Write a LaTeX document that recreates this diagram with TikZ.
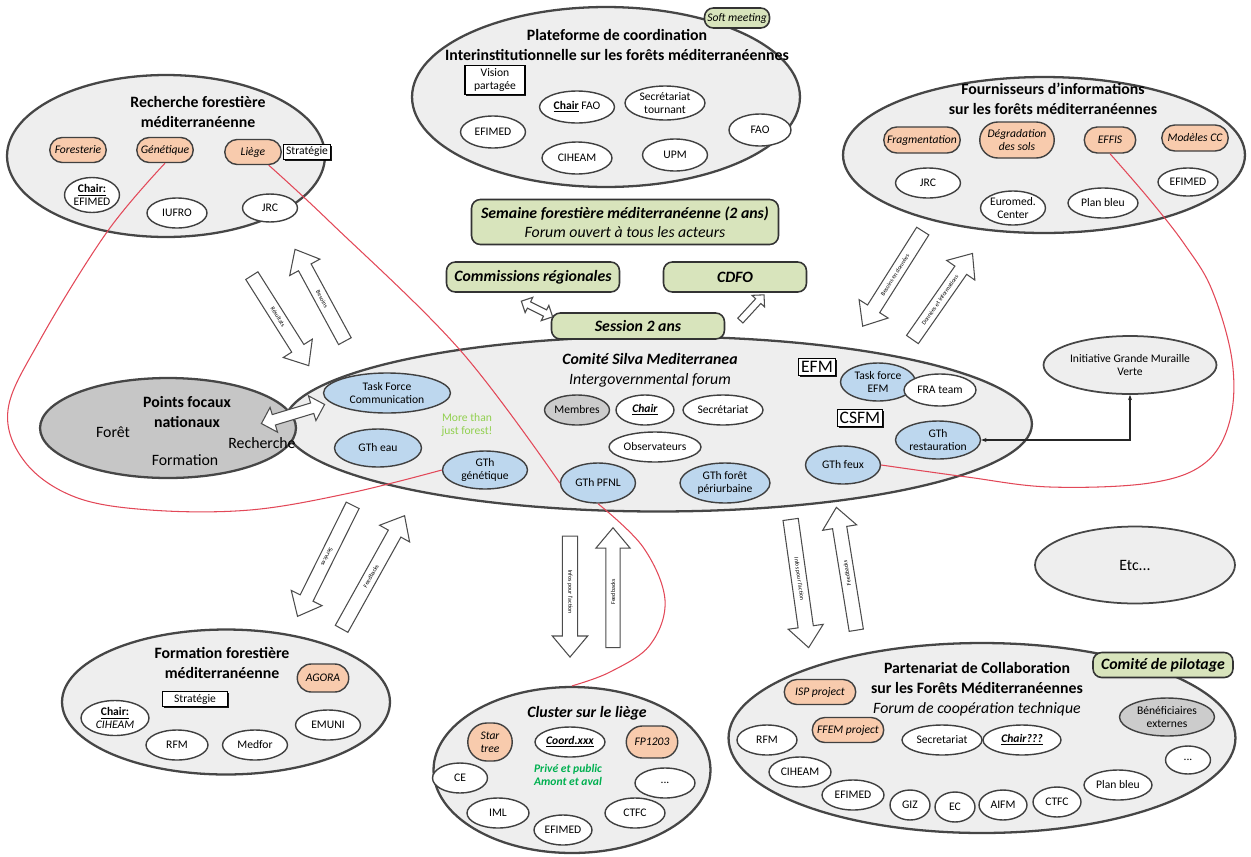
\documentclass[tikz,border=0pt]{standalone}
\usepackage{fontspec}
\setmainfont{Carlito}
\usepackage{tikz}
\usetikzlibrary{shapes, arrows, arrows.meta, positioning, shadows}

\definecolor{orfill}{RGB}{248,203,173}
\definecolor{blfill}{RGB}{189,215,238}
\definecolor{grfill}{RGB}{216,228,188}
\definecolor{redl}{RGB}{226,72,88}
\definecolor{ltgreen}{RGB}{146,208,80}
\definecolor{dkgreen}{RGB}{0,176,80}

\newcommand{\lblfont}{\fontsize{6.6}{7.4}\selectfont}
\newcommand{\ttlfont}{\fontsize{9}{11.4}\selectfont\bfseries}
\newcommand{\midfont}{\fontsize{9}{10.5}\selectfont}
\newcommand{\bigfont}{\fontsize{10}{11}\selectfont}
\newcommand{\arrfont}{\fontsize{3.4}{4}\selectfont}

\tikzstyle{bigell} = [ellipse, draw=gray!55!black, line width=1.3pt, fill=gray!13, inner sep=0pt]
\tikzstyle{pfnode} = [ellipse, draw=gray!55!black, line width=1.3pt, fill=gray!45, inner sep=0pt]
\tikzstyle{wnode} = [ellipse, draw=gray!50!black, line width=0.8pt, fill=white, inner sep=0pt, font=\lblfont, align=center]
\tikzstyle{gnode} = [wnode, fill=gray!40]
\tikzstyle{bnode} = [wnode, fill=blfill]
\tikzstyle{onode} = [rounded rectangle, draw=gray!50!black, line width=0.8pt, fill=orfill, inner sep=1pt, font=\lblfont\itshape, align=center]
\tikzstyle{gbox} = [rectangle, rounded corners=5pt, draw=gray!40!black, line width=0.9pt, fill=grfill, inner sep=1pt, font=\midfont\itshape, align=center]
\tikzstyle{rbox} = [rectangle, draw=black, line width=0.6pt, fill=white, inner sep=1.5pt, font=\lblfont, align=center, drop shadow={shadow xshift=0.8pt, shadow yshift=-0.8pt, fill=black, opacity=0.9}]
\tikzstyle{barrow} = [single arrow, draw=gray!60!black, line width=0.6pt, fill=white, inner xsep=1pt, inner ysep=2.6pt, font=\arrfont, single arrow head extend=0.2cm, single arrow tip angle=80]
\tikzstyle{sarrow} = [single arrow, draw=gray!60!black, line width=0.6pt, fill=white, inner sep=1.7pt, single arrow head extend=0.1cm]
\tikzstyle{darrow} = [double arrow, draw=gray!60!black, line width=0.6pt, fill=white, inner ysep=2.8pt, double arrow head extend=0.15cm]
\tikzstyle{redline} = [draw=redl, line width=0.6pt]
\tikzstyle{line} = [draw=gray!30!black, line width=0.6pt]

\begin{document}
\begin{tikzpicture}[x=0.02cm, y=-0.02cm]
	\useasboundingbox (0,0) rectangle (1251,856);

	% recherche
	\node [bigell, minimum width=6.36cm, minimum height=3.24cm] (rech) at (166,156) {};
	\node [font=\ttlfont, align=center] (rechT) at (198,112) {Recherche forestière\\méditerranéenne};
	\node [onode, minimum width=1.2cm, minimum height=0.5cm] (fores) at (78,150) {Foresterie};
	\node [onode, minimum width=1.2cm, minimum height=0.5cm] (genet) at (165,150) {Génétique};
	\node [onode, minimum width=1.2cm, minimum height=0.5cm] (liege) at (253,152) {Liège};
	\node [rbox, minimum width=0.9cm] (strat1) at (307,152) {Stratégie};
	\node [wnode, minimum width=1.1cm, minimum height=0.7cm] (chair1) at (92,195) {\underline{\textbf{Chair:}}\\EFIMED};
	\node [wnode, minimum width=1.2cm, minimum height=0.6cm] (iufro) at (177,213) {IUFRO};
	\node [wnode, minimum width=1.1cm, minimum height=0.56cm] (jrc1) at (270,208) {JRC};

	% plateforme
	\node [bigell, minimum width=7.76cm, minimum height=3.6cm] (plat) at (606,97) {};
	\node [font=\ttlfont, align=center] (platT) at (617,45) {Plateforme de coordination\\Interinstitutionnelle sur les forêts méditerranéennes};
	\node [gbox, minimum width=1.3cm, minimum height=0.4cm, font=\lblfont\itshape] (soft) at (737,18) {Soft meeting};
	\node [rbox, minimum width=1.2cm] (vision) at (495,80) {Vision\\partagée};
	\node [wnode, minimum width=1.5cm, minimum height=0.64cm] (chair2) at (577,107) {\underline{\textbf{Chair}} FAO};
	\node [wnode, minimum width=1.6cm, minimum height=0.68cm] (secr2) at (665,103) {Secrétariat\\tournant};
	\node [wnode, minimum width=1.3cm, minimum height=0.64cm] (efimed2) at (493,132) {EFIMED};
	\node [wnode, minimum width=1.4cm, minimum height=0.64cm] (ciheam2) at (577,158) {CIHEAM};
	\node [wnode, minimum width=1.3cm, minimum height=0.64cm] (upm) at (675,155) {UPM};
	\node [wnode, minimum width=1.24cm, minimum height=0.64cm] (fao) at (760,130) {FAO};

	% fournisseurs
	\node [bigell, minimum width=8.04cm, minimum height=3.12cm] (fourn) at (1044,155) {};
	\node [font=\ttlfont, align=center] (fournT) at (1053,99) {Fournisseurs d'informations\\sur les forêts méditerranéennes};
	\node [onode, minimum width=1.6cm, minimum height=0.52cm] (fragm) at (922,140) {Fragmentation};
	\node [onode, minimum width=1.56cm, minimum height=0.72cm] (degrad) at (1017,140) {Dégradation\\des sols};
	\node [onode, minimum width=1.1cm, minimum height=0.52cm] (effis) at (1110,140) {EFFIS};
	\node [onode, minimum width=1.4cm, minimum height=0.52cm] (modcc) at (1195,138) {Modèles CC};
	\node [wnode, minimum width=1.3cm, minimum height=0.6cm] (jrc3) at (928,183) {JRC};
	\node [wnode, minimum width=1.3cm, minimum height=0.68cm] (eurom) at (1013,208) {Euromed.\\Center};
	\node [wnode, minimum width=1.4cm, minimum height=0.6cm] (planb3) at (1103,203) {Plan bleu};
	\node [wnode, minimum width=1.2cm, minimum height=0.56cm] (efimed3) at (1188,182) {EFIMED};

	% semaine, commissions, cdfo
	\node [gbox, minimum width=6.14cm, minimum height=0.9cm] (semaine) at (625,222) {\textbf{Semaine forestière méditerranéenne (2 ans)}\\Forum ouvert à tous les acteurs};
	\node [gbox, minimum width=3.46cm, minimum height=0.6cm] (commis) at (533,277) {\textbf{Commissions régionales}};
	\node [gbox, minimum width=2.86cm, minimum height=0.6cm] (cdfo) at (735,277) {\textbf{CDFO}};

	% comite silva mediterranea
	\node [bigell, minimum width=14.96cm, minimum height=3.5cm] (comite) at (658,424) {};
	\node [gbox, minimum width=3.46cm, minimum height=0.52cm] (session) at (638,326) {\textbf{Session 2 ans}};
	\node [font=\ttlfont\itshape, align=center] (comiteT) at (650,370) {Comité Silva Mediterranea\\\mdseries Intergovernmental forum};
	\node [bnode, minimum width=2.54cm, minimum height=0.8cm] (tfcom) at (387,393) {Task Force\\Communication};
	\node [bnode, minimum width=1.74cm, minimum height=0.76cm] (gteau) at (378,448) {GTh eau};
	\node [font=\lblfont, text=ltgreen, align=center] (more) at (467,425) {More than\\just forest!};
	\node [bnode, minimum width=1.7cm, minimum height=0.76cm] (gtgen) at (485,470) {GTh\\génétique};
	\node [gnode, minimum width=1.3cm, minimum height=0.6cm] (membres) at (577,410) {Membres};
	\node [wnode, minimum width=1.16cm, minimum height=0.6cm] (chairc) at (645,410) {\underline{\textbf{\textit{Chair}}}};
	\node [wnode, minimum width=1.6cm, minimum height=0.6cm] (secrc) at (723,410) {Secrétariat};
	\node [wnode, minimum width=1.84cm, minimum height=0.6cm] (obs) at (655,447) {Observateurs};
	\node [bnode, minimum width=1.5cm, minimum height=0.8cm] (pfnl) at (598,483) {GTh PFNL};
	\node [bnode, minimum width=1.8cm, minimum height=0.8cm] (periurb) at (725,483) {GTh forêt\\périurbaine};
	\node [bnode, minimum width=1.5cm, minimum height=0.76cm] (feux) at (843,465) {GTh feux};
	\node [bnode, minimum width=1.7cm, minimum height=0.76cm] (restau) at (938,440) {GTh\\restauration};
	\node [rbox, font=\bigfont] (efm) at (817,367) {EFM};
	\node [bnode, minimum width=1.5cm, minimum height=0.76cm] (tfefm) at (878,382) {Task force\\EFM};
	\node [wnode, minimum width=1.44cm, minimum height=0.64cm] (fra) at (940,390) {FRA team};
	\node [rbox, font=\bigfont] (csfm) at (860,418) {CSFM};

	% points focaux
	\node [pfnode, minimum width=5.12cm, minimum height=2cm] (pfn) at (168,428) {};
	\node [font=\ttlfont, align=center] (pfnT) at (187,412) {Points focaux\\nationaux};
	\node [font=\midfont] (foret) at (113,432) {Forêt};
	\node [font=\midfont] (rechpf) at (262,443) {Recherche};
	\node [font=\midfont] (formpf) at (185,460) {Formation};

	% grande muraille, etc
	\node [bigell, line width=1pt, minimum width=3.46cm, minimum height=1.16cm, font=\lblfont, align=center] (gmv) at (1130,365) {Initiative Grande Muraille\\Verte};
	\node [bigell, line width=1pt, minimum width=4cm, minimum height=1.54cm, font=\midfont] (etc) at (1135,565) {Etc...};

	% formation
	\node [bigell, minimum width=6.56cm, minimum height=2.9cm] (formf) at (226,702) {};
	\node [font=\ttlfont, align=center] (formfT) at (222,663) {Formation forestière\\méditerranéenne};
	\node [onode, minimum width=1.1cm, minimum height=0.56cm] (agora) at (323,678) {AGORA};
	\node [rbox, minimum width=1.3cm] (strat2) at (195,699) {Stratégie};
	\node [wnode, minimum width=1.36cm, minimum height=0.7cm] (chair4) at (115,718) {\underline{\textbf{Chair:}}\\\textit{CIHEAM}};
	\node [wnode, minimum width=1.24cm, minimum height=0.6cm] (rfm4) at (177,745) {RFM};
	\node [wnode, minimum width=1.3cm, minimum height=0.6cm] (medfor) at (255,745) {Medfor};
	\node [wnode, minimum width=1.3cm, minimum height=0.6cm] (emuni) at (328,725) {EMUNI};

	% cluster
	\node [bigell, minimum width=5.54cm, minimum height=3.32cm] (cluster) at (572,770) {};
	\node [font=\ttlfont\itshape] (clusterT) at (587,713) {Cluster sur le liège};
	\node [onode, minimum width=0.96cm, minimum height=0.76cm] (star) at (490,742) {Star\\tree};
	\node [wnode, minimum width=1.4cm, minimum height=0.6cm] (coord) at (570,742) {\underline{\textbf{\textit{Coord.xxx}}}};
	\node [onode, minimum width=1.1cm, minimum height=0.64cm] (fp) at (652,742) {FP1203};
	\node [font=\lblfont\itshape\bfseries, text=dkgreen, align=center] (prive) at (568,775) {Privé et public\\Amont et aval};
	\node [wnode, minimum width=1.1cm, minimum height=0.6cm] (ce) at (460,778) {CE};
	\node [wnode, minimum width=1.2cm, minimum height=0.6cm] (etc5) at (665,783) {...};
	\node [wnode, minimum width=1.24cm, minimum height=0.6cm] (iml) at (498,813) {IML};
	\node [wnode, minimum width=1.16cm, minimum height=0.6cm] (efimed5) at (563,830) {EFIMED};
	\node [wnode, minimum width=1.2cm, minimum height=0.6cm] (ctfc5) at (635,813) {CTFC};

	% partenariat
	\node [bigell, minimum width=10.14cm, minimum height=3.8cm] (parten) at (982,738) {};
	\node [gbox, minimum width=2.8cm, minimum height=0.5cm] (pilot) at (1163,665) {\textbf{Comité de pilotage}};
	\node [font=\ttlfont, align=center] (partenT) at (977,689) {Partenariat de Collaboration\\sur les Forêts Méditerranéennes\\\mdseries\itshape Forum de coopération technique};
	\node [onode, minimum width=1.5cm, minimum height=0.5cm] (isp) at (820,692) {ISP project};
	\node [onode, minimum width=1.5cm, minimum height=0.5cm] (ffem) at (848,730) {FFEM project};
	\node [wnode, minimum width=1.6cm, minimum height=0.6cm] (secr6) at (942,740) {Secretariat};
	\node [wnode, minimum width=1.56cm, minimum height=0.6cm] (chair6) at (1022,740) {\underline{\textbf{\textit{Chair???}}}};
	\node [gnode, minimum width=1.9cm, minimum height=0.76cm] (benef) at (1167,717) {Bénéficiaires\\externes};
	\node [wnode, minimum width=1.2cm, minimum height=0.6cm] (rfm6) at (767,740) {RFM};
	\node [wnode, minimum width=1.24cm, minimum height=0.6cm] (ciheam6) at (800,772) {CIHEAM};
	\node [wnode, minimum width=1.24cm, minimum height=0.6cm] (efimed6) at (853,795) {EFIMED};
	\node [wnode, minimum width=0.8cm, minimum height=0.6cm] (giz) at (910,805) {GIZ};
	\node [wnode, minimum width=0.8cm, minimum height=0.6cm] (ec) at (955,807) {EC};
	\node [wnode, minimum width=0.96cm, minimum height=0.6cm] (aifm) at (1003,805) {AIFM};
	\node [wnode, minimum width=0.96cm, minimum height=0.6cm] (ctfc6) at (1057,802) {CTFC};
	\node [wnode, minimum width=1.36cm, minimum height=0.6cm] (planb6) at (1118,785) {Plan bleu};
	\node [wnode, minimum width=0.9cm, minimum height=0.56cm] (etc6) at (1188,760) {...};

	% block arrows
	\node [barrow, minimum height=2.13cm, rotate=-57.7] (a1) at (278,317) {Résultats};
	\node [barrow, minimum height=2.09cm, rotate=118.5] (a2) at (322,299) {\rotatebox{180}{Besoins}};
	\node [barrow, minimum height=2.48cm, rotate=-116.4] (a3) at (327,557) {Services};
	\node [barrow, minimum height=2.59cm, rotate=60.9] (a4) at (371,576) {Feedbacks};
	\node [barrow, minimum height=2.42cm, rotate=-90] (a5) at (570,592) {Infos pour l'action};
	\node [barrow, minimum height=2.4cm, rotate=90] (a6) at (613,592) {Feedbacks};
	\node [barrow, minimum height=2.59cm, rotate=-82] (a7) at (799,579) {Infos pour l'action};
	\node [barrow, minimum height=2.49cm, rotate=99.2] (a8) at (847,573) {Feedbacks};
	\node [barrow, minimum height=2.25cm, rotate=-122.3] (a9) at (895,275) {\rotatebox{180}{Besoins en données}};
	\node [barrow, minimum height=2.1cm, rotate=55.1] (a10) at (940,300) {Données et informations};
	\node [darrow, minimum height=1.32cm, rotate=16.8] (a11) at (293,414) {};
	\node [darrow, inner ysep=1.7pt, double arrow head extend=0.1cm, minimum height=0.7cm, rotate=-26.6] (a12) at (537,309) {};
	\node [sarrow, minimum height=0.7cm, rotate=47.4] (a13) at (751,309) {};

	% links
	\path [line, {Stealth[length=3pt]}-{Stealth[length=3pt]}] (restau.east) -| (gmv.south);
	\path [redline] plot [smooth, tension=0.6] coordinates {(genet.south) (107,232) (40,340) (8,410) (25,462) (75,497) (150,510) (250,510) (350,493) (gtgen.west)};
	\path [redline] plot [smooth, tension=0.6] coordinates {(liege.south east) (330,222) (460,350) (pfnl.west)};
	\path [redline] plot [smooth, tension=0.6] coordinates {(pfnl.south) (643,547) (665,600) (650,645) (610,672) (cluster.north)};
	\path [redline] plot [smooth, tension=0.6] coordinates {(effis.south) (1150,200) (1185,245) (1212,290) (1232,360) (1230,420) (1205,463) (1150,483) (1050,487) (967,477) (feux.east)};
\end{tikzpicture}
\end{document}
